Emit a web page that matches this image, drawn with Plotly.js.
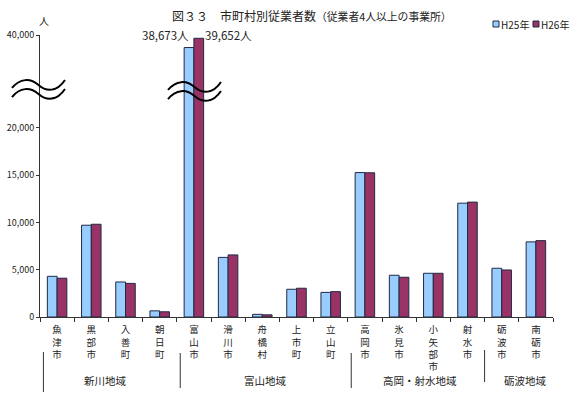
<!DOCTYPE html>
<html><head><meta charset="utf-8">
<script src="https://cdn.plot.ly/plotly-3.0.1.min.js"></script>
<style>html,body{margin:0;padding:0;background:#fff}#c{width:578px;height:397px}</style>
</head><body><div id="c"></div>
<script>
const categories = ['魚津市','黒部市','入善町','朝日町','富山市','滑川市','舟橋村','上市町','立山町','高岡市','氷見市','小矢部市','射水市','砺波市','南砺市'];
const h25 = [4300, 9700, 3700, 650, 38673, 6300, 280, 2930, 2600, 15260, 4410, 4620, 12030, 5150, 7940];
const h26 = [4100, 9800, 3550, 550, 39652, 6560, 230, 3040, 2680, 15240, 4200, 4620, 12140, 4970, 8070];
const seriesNames = ['H25年', 'H26年'];
const regions = ['新川地域', '富山地域', '高岡・射水地域', '砺波地域'];
const yTicks = [0, 5000, 10000, 15000, 20000];
const yTopTick = 40000;

const F = '"Noto Sans CJK JP", "Noto Sans", sans-serif';
const W = 578, H = 397, L = 40, R = 25, T = 35, B = 80;
const pw = W - L - R, ph = H - T - B;
const px = x => (x - L) / pw;
const py = y => (H - B - y) / ph;

// broken axis: lower 0..24200, upper 34400..40000 with same scale
const lowMax = 24200, upMin = 34400;
const f = lowMax / (lowMax + (yTopTick - upMin));

const c1 = '#99CCFF', c2 = '#993366', edge = '#1f2a44';
const mk = (name, vals, col, ya) => ({
  type: 'bar', name, x: categories, y: vals, yaxis: ya, showlegend: false,
  marker: {color: col, line: {color: edge, width: 1}}, hoverinfo: 'x+y'
});
const data = [
  mk(seriesNames[0], h25, c1, 'y'),
  mk(seriesNames[1], h26, c2, 'y'),
  mk(seriesNames[0], h25, c1, 'y2'),
  mk(seriesNames[1], h26, c2, 'y2')
];

function wave(x0, y0, w) {
  const P = p => px(p[0]).toFixed(4) + ',' + py(p[1]).toFixed(4);
  return 'M' + P([x0, y0 + 4]) + ' C' + P([x0 + w * 0.15, y0 - 6]) + ' ' + P([x0 + w * 0.35, y0 - 6]) + ' ' + P([x0 + w * 0.5, y0 + 1]) +
         ' S' + P([x0 + w * 0.85, y0 + 8]) + ' ' + P([x0 + w, y0 - 4]);
}
const shapes = [];
[[12, 84], [12, 93], [168, 86], [168, 95]].forEach(([x, y]) => {
  shapes.push({type: 'path', xref: 'paper', yref: 'paper', path: wave(x, y, 53), line: {color: '#000', width: 2}});
});
[[-0.4, 352, 392], [3.6, 353, 388], [8.6, 353, 388], [12.5, 350, 382]].forEach(([x, y0, y1]) => {
  shapes.push({type: 'line', xref: 'x', yref: 'paper', x0: x, x1: x, y0: py(y0), y1: py(y1), line: {color: '#333', width: 1}});
});

const annotations = [
  {xref: 'paper', yref: 'paper', x: px(44), y: py(20), text: '人', showarrow: false, font: {family: F, size: 10, color: '#222'}, xanchor: 'center', yanchor: 'middle'},
  {xref: 'x', yref: 'y2', x: categories[4], y: yTopTick, xshift: -3, text: h25[4].toLocaleString('en-US') + '人', showarrow: false, xanchor: 'right', yanchor: 'middle', font: {family: F, size: 11.5, color: '#222'}},
  {xref: 'x', yref: 'y2', x: categories[4], y: yTopTick, xshift: 9, text: h26[4].toLocaleString('en-US') + '人', showarrow: false, xanchor: 'left', yanchor: 'middle', font: {family: F, size: 11.5, color: '#222'}}
];
const regionX = [105, 265, 420, 525];
regions.forEach((r, i) => annotations.push({xref: 'paper', yref: 'paper', x: px(regionX[i]), y: py(380), text: r, showarrow: false, xanchor: 'center', yanchor: 'middle', font: {family: F, size: 10.5, color: '#222'}}));

// compact legend (swatch + label), matching reference
const legX = [[493, 499], [533, 539]];
const legCols = [c1, c2];
seriesNames.forEach((n, i) => {
  shapes.push({type: 'rect', xref: 'paper', yref: 'paper', x0: px(legX[i][0]), x1: px(legX[i][0] + 6), y0: py(27), y1: py(21), fillcolor: legCols[i], line: {color: edge, width: 1}});
  annotations.push({xref: 'paper', yref: 'paper', x: px(legX[i][1]), y: py(24), text: n, showarrow: false, xanchor: 'left', yanchor: 'middle', font: {family: F, size: 10, color: '#222'}});
});

const layout = {
  width: W, height: H, margin: {l: L, r: R, t: T, b: B},
  paper_bgcolor: '#fff', plot_bgcolor: '#fff',
  font: {family: F, color: '#222'},
  title: {text: '図３３　市町村別従業者数<span style="font-size:10.8px">（従業者4人以上の事業所）</span>', x: 172 / W, xanchor: 'left', xref: 'container', y: 1 - 17 / H, yref: 'container', yanchor: 'middle', font: {family: F, size: 12, color: '#222'}},
  bargap: 0.43, bargroupgap: 0,
  showlegend: false,
  xaxis: {type: 'category', tickvals: categories, ticktext: categories.map(c => c.split('').join('<br>')), tickson: 'boundaries', ticks: 'outside', ticklen: 4, tickcolor: '#333', showline: true, linecolor: '#333', linewidth: 1, tickfont: {family: F, size: 9.5, color: '#222'}, tickangle: 0, ticklabelstandoff: 4, anchor: 'y', showgrid: false, zeroline: false},
  yaxis: {domain: [0, f], range: [0, lowMax], tickvals: yTicks, ticktext: yTicks.map(v => v.toLocaleString('en-US')), ticks: 'outside', ticklen: 3, tickcolor: '#333', showline: true, linecolor: '#333', showgrid: false, zeroline: false, tickfont: {family: F, size: 9, color: '#222'}, anchor: 'x'},
  yaxis2: {domain: [f, 1], range: [upMin, yTopTick], tickvals: [yTopTick], ticktext: [yTopTick.toLocaleString('en-US')], ticks: 'outside', ticklen: 3, tickcolor: '#333', showline: true, linecolor: '#333', showgrid: false, zeroline: false, tickfont: {family: F, size: 9, color: '#222'}, anchor: 'x'},
  shapes, annotations
};
Plotly.newPlot('c', data, layout, {displayModeBar: false, staticPlot: true});
</script></body></html>
